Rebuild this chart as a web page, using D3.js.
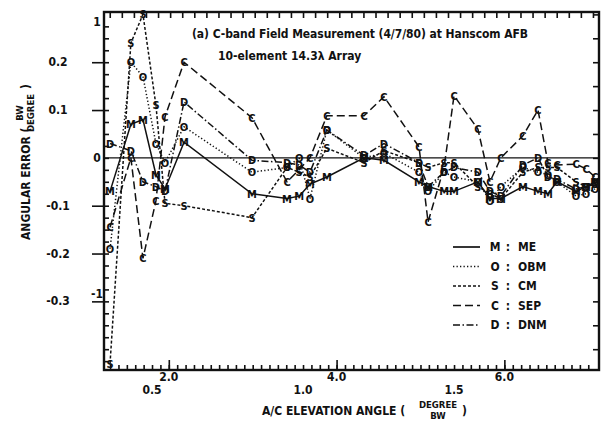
<!DOCTYPE html>
<html>
<head>
<meta charset="utf-8">
<script src="https://cdn.jsdelivr.net/npm/d3@7"></script>
<style>
  body { margin: 0; background: #fff; }
  svg text { font-family: "DejaVu Sans Condensed", "DejaVu Sans", sans-serif; font-weight: bold; fill: #111; }
</style>
</head>
<body>
<div class="chart"></div>
<script>
// elevation angles (BW units) where measurements were taken
const angles = [0.361, 0.430, 0.470, 0.513, 0.543, 0.606, 0.831, 0.947, 0.987, 1.023, 1.079,
  1.202, 1.268, 1.384, 1.414, 1.467, 1.500, 1.579, 1.619, 1.655, 1.728, 1.778, 1.811, 1.841,
  1.904, 1.937, 1.967];

// angular error for each method
const meValues  = [-0.07, 0.07, 0.08, -0.035, -0.065, 0.033, -0.075, -0.085, -0.08, -0.055, -0.04,
  0.0, -0.005, -0.05, -0.06, -0.07, -0.07, -0.05, -0.085, -0.085, -0.06, -0.07, -0.075, -0.05,
  -0.07, -0.06, -0.05];
const obmValues = [-0.19, 0.2, 0.17, 0.03, -0.01, 0.065, -0.03, -0.02, 0.0, -0.085, 0.058,
  0.0, 0.01, -0.03, -0.07, -0.03, -0.04, -0.05, -0.09, -0.06, -0.02, -0.03, -0.035, -0.05,
  -0.08, -0.075, -0.065];
const cmValues  = [-0.43, 0.24, 0.3, 0.11, -0.095, -0.1, -0.125, -0.02, -0.03, -0.04, 0.02,
  -0.01, 0.015, -0.01, -0.02, -0.01, -0.01, -0.06, -0.075, -0.085, -0.03, -0.02, -0.02, -0.02,
  -0.05, -0.06, -0.055];
const sepValues = [-0.145, 0.0, -0.21, -0.09, 0.086, 0.2, 0.084, -0.05, -0.025, 0.0, 0.088,
  0.088, 0.128, 0.023, -0.134, -0.02, 0.13, 0.06, -0.05, 0.0, 0.046, 0.1, -0.01, -0.015,
  -0.013, -0.023, -0.04];
const dnmValues = [0.03, 0.015, -0.05, -0.06, -0.07, 0.117, -0.005, -0.01, -0.015, -0.03, 0.058,
  0.005, 0.03, -0.01, -0.06, -0.03, -0.02, -0.03, -0.07, -0.08, -0.015, 0.0, -0.04, -0.045,
  -0.065, -0.06, -0.05];

const seriesNames = ["ME", "OBM", "CM", "SEP", "DNM"];
const seriesLetters = ["M", "O", "S", "C", "D"];
const seriesValues = [meValues, obmValues, cmValues, sepValues, dnmValues];
const seriesDash = ["none", "1.3,2.2", "3,2", "8,4", "7,2.5,1.5,2.5"];

const yTicks = [0.2, 0.1, -0.1, -0.2, -0.3];
const xTicks = [0.5, 1.0, 1.5];
const degTicks = [2.0, 4.0, 6.0];
const y2Ticks = [1, 0, -1];

const w = 609, h = 432;
const pLeft = 104, pRight = 599, pTop = 12, pBottom = 370;

const x = d3.scaleLinear().domain([0.341, 1.98]).range([pLeft, pRight]);
const xDeg = d3.scaleLinear().domain([0.341 * 3.6, 1.98 * 3.6]).range([pLeft, pRight]);
const y = d3.scaleLinear().domain([-0.4435, 0.305]).range([pBottom, pTop]);
const y2 = d3.scaleLinear().domain([-0.4435 / 0.285, 0.305 / 0.285]).range([pBottom, pTop]);

const svg = d3.select(".chart").append("svg")
  .attr("width", w).attr("height", h);

svg.append("defs").append("clipPath").attr("id", "plot")
  .append("rect").attr("x", pLeft).attr("y", pTop - 2)
  .attr("width", pRight - pLeft).attr("height", pBottom - pTop + 2);

/* minor ticks on all four sides, pointing in */
const topAxis = d3.axisBottom(x).tickValues(d3.range(0.36, 1.98, 0.04)).tickSize(6).tickFormat("");
svg.append("g").attr("transform", `translate(0,${pTop})`).call(topAxis);

const bottomAxis = d3.axisTop(xDeg).tickValues(d3.range(1.3, 7.1, 0.1)).tickSize(5).tickFormat("");
svg.append("g").attr("transform", `translate(0,${pBottom})`).call(bottomAxis);
svg.append("g").attr("transform", `translate(0,${pBottom})`)
  .call(d3.axisTop(xDeg).tickValues(degTicks).tickSize(10).tickFormat(""));

const rightAxis = d3.axisLeft(y).tickValues(d3.range(-0.4, 0.31, 0.05)).tickSize(6).tickFormat("");
svg.append("g").attr("transform", `translate(${pRight},0)`).call(rightAxis);

const leftMinor = d3.axisRight(y).tickValues(d3.range(-0.425, 0.3, 0.025)).tickSize(5).tickFormat("");
svg.append("g").attr("transform", `translate(${pLeft},0)`).call(leftMinor);

/* major ticks on the left, pointing out */
svg.append("g").attr("transform", `translate(${pLeft},0)`)
  .call(d3.axisLeft(y).tickValues(yTicks).tickSize(12).tickFormat(""));

svg.selectAll("g path.domain").remove();
svg.selectAll("g line").attr("stroke", "#111").attr("stroke-width", 1.6);

/* frame */
svg.append("rect").attr("x", pLeft).attr("y", pTop)
  .attr("width", pRight - pLeft).attr("height", pBottom - pTop)
  .attr("fill", "none").attr("stroke", "#111").attr("stroke-width", 2.4);

/* zero line */
svg.append("line").attr("x1", pLeft).attr("x2", pRight)
  .attr("y1", y(0)).attr("y2", y(0))
  .attr("stroke", "#111").attr("stroke-width", 1.4);

/* tick labels */
svg.selectAll(".ylab").data(yTicks).enter().append("text")
  .attr("x", 58).attr("y", d => y(d) + 4)
  .attr("text-anchor", "middle").attr("font-size", 12)
  .text(d => d.toFixed(1));
svg.selectAll(".y2lab").data(y2Ticks).enter().append("text")
  .attr("x", 97).attr("y", d => y2(d) + 4)
  .attr("text-anchor", "middle").attr("font-size", 12)
  .text(d => d === 0 ? "0" : d);
svg.selectAll(".xlab").data(xTicks).enter().append("text")
  .attr("x", d => x(d)).attr("y", 394)
  .attr("text-anchor", "middle").attr("font-size", 12)
  .text(d => d.toFixed(1));
svg.selectAll(".dlab").data(degTicks).enter().append("text")
  .attr("x", d => xDeg(d)).attr("y", 381)
  .attr("text-anchor", "middle").attr("font-size", 12)
  .text(d => d.toFixed(1));

/* series lines and letter markers */
const plot = svg.append("g").attr("clip-path", "url(#plot)");
const line = d3.line().x((d, i) => x(angles[i])).y(d => y(d));

seriesValues.forEach((vals, k) => {
  plot.append("path").datum(vals)
    .attr("d", line)
    .attr("fill", "none").attr("stroke", "#111")
    .attr("stroke-width", 1.5)
    .attr("stroke-dasharray", seriesDash[k]);
});
seriesValues.forEach((vals, k) => {
  svg.append("g").selectAll("text").data(vals).enter().append("text")
    .attr("x", (d, i) => x(angles[i]))
    .attr("y", d => Math.min(y(d), pBottom - 2) + 4)
    .attr("text-anchor", "middle").attr("font-size", 11)
    .text(seriesLetters[k]);
});

/* title */
svg.append("text").attr("x", 192).attr("y", 38).attr("font-size", 12)
  .attr("textLength", 336)
  .text("(a)  C-band Field Measurement (4/7/80) at Hanscom AFB");
svg.append("text").attr("x", 218).attr("y", 60).attr("font-size", 12)
  .text("10-element 14.3\u03bb    Array");

/* legend */
const legend = svg.append("g");
seriesNames.forEach((name, k) => {
  const ly = 247 + k * 19.5;
  legend.append("line").attr("x1", 453).attr("x2", 480)
    .attr("y1", ly).attr("y2", ly)
    .attr("stroke", "#111").attr("stroke-width", 1.7)
    .attr("stroke-dasharray", seriesDash[k]);
  legend.append("text").attr("x", 495).attr("y", ly + 4)
    .attr("text-anchor", "middle").attr("font-size", 12).text(seriesLetters[k]);
  legend.append("text").attr("x", 508).attr("y", ly + 4)
    .attr("text-anchor", "middle").attr("font-size", 12).text(":");
  legend.append("text").attr("x", 518).attr("y", ly + 4)
    .attr("font-size", 12).text(name);
});

/* axis titles */
svg.append("text").attr("x", 262).attr("y", 415).attr("font-size", 12)
  .text("A/C ELEVATION ANGLE (");
svg.append("text").attr("x", 438).attr("y", 408).attr("text-anchor", "middle")
  .attr("font-size", 9.5).text("DEGREE");
svg.append("text").attr("x", 438).attr("y", 419).attr("text-anchor", "middle")
  .attr("font-size", 9.5).text("BW");
svg.append("text").attr("x", 462).attr("y", 415).attr("font-size", 12).text(")");

const yt = svg.append("g").attr("transform", "translate(30,240) rotate(-90)");
yt.append("text").attr("x", 0).attr("y", 0).attr("font-size", 12)
  .text("ANGULAR ERROR (");
yt.append("text").attr("x", 127).attr("y", -7).attr("text-anchor", "middle")
  .attr("font-size", 9.5).text("BW");
yt.append("text").attr("x", 127).attr("y", 4).attr("text-anchor", "middle")
  .attr("font-size", 9.5).text("DEGREE");
yt.append("text").attr("x", 151).attr("y", 0).attr("font-size", 12).text(")");
</script>
</body>
</html>
